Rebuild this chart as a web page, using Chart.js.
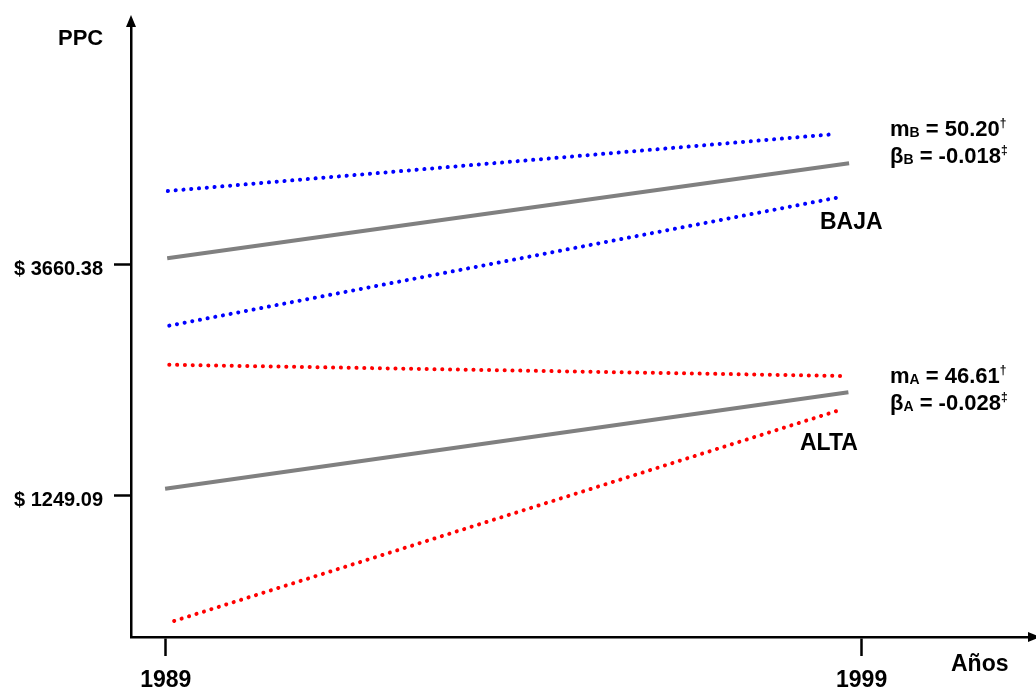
<!DOCTYPE html>
<html>
<head>
<meta charset="utf-8">
<script src="https://cdn.jsdelivr.net/npm/chart.js@4.4.1/dist/chart.umd.min.js"></script>
<style>
  html, body { margin: 0; padding: 0; background: #fff; }
  #wrap { position: relative; width: 1036px; height: 691px; }
</style>
</head>
<body>
<div id="wrap"><canvas id="ppcChart"></canvas></div>
<script>
// Años del eje x
const years = [1989, 1999];
// Marcas del eje y (PPC en $)
const yTicks = [1249.09, 3660.38];

// Estrato BAJA: límite superior, recta media, límite inferior
const bajaSup = [{ x: 1989.03, y: 4426 }, { x: 1998.62, y: 5020 }];
const bajaMedia = [{ x: 1989.02, y: 3723 }, { x: 1998.82, y: 4715 }];
const bajaInf = [{ x: 1989.05, y: 3020 }, { x: 1998.72, y: 4366 }];

// Estrato ALTA
const altaSup = [{ x: 1989.05, y: 2612 }, { x: 1998.78, y: 2494 }];
const altaMedia = [{ x: 1988.99, y: 1318 }, { x: 1998.81, y: 2324 }];
const altaInf = [{ x: 1989.12, y: -63 }, { x: 1998.72, y: 2147 }];

// Pendientes y betas
const pendientes = ['50.20', '46.61'];
const betas = ['-0.018', '-0.028'];

const FONT = '"Liberation Sans", Arial, Helvetica, sans-serif';
const GRIS = '#808080';
const AZUL = '#0000ff';
const ROJO = '#ff0000';

function punteada(data, color) {
  return {
    data: data,
    borderColor: color,
    borderWidth: 4,
    borderDash: [0.1, 7.7],
    borderCapStyle: 'round',
    pointRadius: 0,
    tension: 0
  };
}
function solida(data) {
  return {
    data: data,
    borderColor: GRIS,
    borderWidth: 4,
    pointRadius: 0,
    tension: 0
  };
}

// texto con subíndices / superíndices
function texto(ctx, x, y, partes) {
  partes.forEach(p => {
    ctx.font = 'bold ' + p.size + 'px ' + FONT;
    ctx.fillText(p.t, x, y + (p.dy || 0));
    x += ctx.measureText(p.t).width;
  });
}

const extras = {
  id: 'extras',
  afterDraw(chart) {
    const ctx = chart.ctx;
    const xs = chart.scales.x, ys = chart.scales.y;
    const ax = ys.right;
    const ay = xs.top;
    ctx.save();
    ctx.fillStyle = '#000';
    // flecha eje y
    ctx.beginPath();
    ctx.moveTo(ax - 5, 27);
    ctx.lineTo(ax, 15);
    ctx.lineTo(ax + 5, 27);
    ctx.closePath();
    ctx.fill();
    // flecha eje x
    ctx.beginPath();
    ctx.moveTo(1028, ay - 5);
    ctx.lineTo(1040, ay);
    ctx.lineTo(1028, ay + 5);
    ctx.closePath();
    ctx.fill();

    ctx.textAlign = 'left';
    ctx.textBaseline = 'alphabetic';
    texto(ctx, 58, 45, [{ t: 'PPC', size: 22 }]);
    texto(ctx, 951, 671, [{ t: 'Años', size: 23 }]);

    texto(ctx, 890, 136, [{ t: 'm', size: 22 }, { t: 'B', size: 14, dy: 1 }, { t: ' = ' + pendientes[0], size: 22 }, { t: '†', size: 12, dy: -9 }]);
    texto(ctx, 890, 163, [{ t: 'β', size: 22 }, { t: 'B', size: 14, dy: 1 }, { t: ' = ' + betas[0], size: 22 }, { t: '‡', size: 12, dy: -9 }]);
    texto(ctx, 820, 229, [{ t: 'BAJA', size: 23 }]);

    texto(ctx, 890, 383, [{ t: 'm', size: 22 }, { t: 'A', size: 14, dy: 1 }, { t: ' = ' + pendientes[1], size: 22 }, { t: '†', size: 12, dy: -9 }]);
    texto(ctx, 890, 410, [{ t: 'β', size: 22 }, { t: 'A', size: 14, dy: 1 }, { t: ' = ' + betas[1], size: 22 }, { t: '‡', size: 12, dy: -9 }]);
    texto(ctx, 800, 450, [{ t: 'ALTA', size: 23 }]);
    ctx.restore();
  }
};

new Chart(document.getElementById('ppcChart'), {
  type: 'line',
  data: {
    datasets: [
      punteada(bajaSup, AZUL),
      solida(bajaMedia),
      punteada(bajaInf, AZUL),
      punteada(altaSup, ROJO),
      solida(altaMedia),
      punteada(altaInf, ROJO)
    ]
  },
  options: {
    responsive: true,
    maintainAspectRatio: false,
    animation: false,
    layout: { padding: { top: 24, right: 6, left: 0, bottom: 0 } },
    plugins: {
      legend: { display: false },
      tooltip: { enabled: false }
    },
    scales: {
      x: {
        type: 'linear',
        min: 1988.5,
        max: 2001.42,
        afterBuildTicks: s => { s.ticks = years.map(v => ({ value: v })); },
        afterFit: s => { s.height = 54; },
        border: { color: '#000', width: 2.5 },
        grid: { drawOnChartArea: false, color: '#000', tickColor: '#000', tickLength: 19, tickWidth: 2.5 },
        ticks: {
          padding: 11,
          color: '#000',
          maxRotation: 0,
          autoSkip: false,
          font: { family: FONT, size: 23, weight: 'bold' },
          callback: v => String(v)
        }
      },
      y: {
        min: -230,
        max: 6168.8,
        afterBuildTicks: s => { s.ticks = yTicks.map(v => ({ value: v })); },
        afterFit: s => { s.width = 131; },
        border: { color: '#000', width: 2.5 },
        grid: { drawOnChartArea: false, color: '#000', tickColor: '#000', tickLength: 17, tickWidth: 2.5 },
        ticks: {
          padding: 11,
          labelOffset: 5,
          color: '#000',
          autoSkip: false,
          font: { family: FONT, size: 20, weight: 'bold' },
          callback: v => '$ ' + Number(v).toFixed(2)
        }
      }
    }
  },
  plugins: [extras]
});
</script>
</body>
</html>
